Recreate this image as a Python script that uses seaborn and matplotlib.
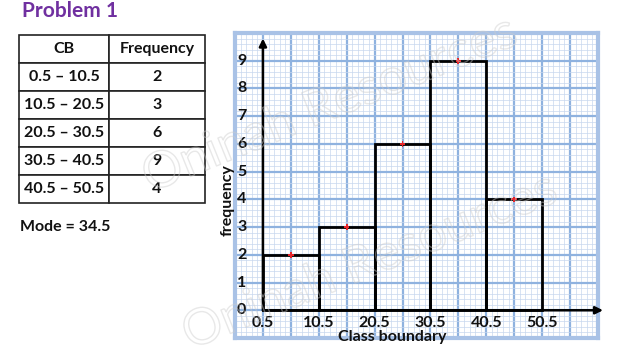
import matplotlib
matplotlib.use('Agg')
import matplotlib.pyplot as plt
import seaborn as sns
import numpy as np
import pandas as pd
from matplotlib import patheffects as pe

# ---- data ----
edges = [0.5, 10.5, 20.5, 30.5, 40.5, 50.5]
freq = [2, 3, 6, 9, 4]
cb_labels = ["0.5 – 10.5", "10.5 – 20.5", "20.5 – 30.5", "30.5 – 40.5", "40.5 – 50.5"]
table_header = ["CB", "Frequency"]
y_ticks = [0, 1, 2, 3, 4, 5, 6, 7, 8, 9]
x_tick_labels = ["0.5", "10.5", "20.5", "30.5", "40.5", "50.5"]
mode_text = "Mode = 34.5"
title = "Problem 1"
watermark = "Oninah Resources"

sns.set_theme(style='white')
plt.rcParams['font.family'] = ['Lato', 'DejaVu Sans']

W, H = 640, 360
fig = plt.figure(figsize=(6.4, 3.6), dpi=100)
fig.patch.set_facecolor('white')

FS = 11.5

# ---- graph paper axes ----
ax = fig.add_axes([235 / W, 1 - 338 / H, 363 / W, 305 / H])
xmin, xmax, ymin, ymax = -4.5, 60.5, -1, 10
ax.set_xlim(xmin, xmax)
ax.set_ylim(ymin, ymax)
ax.set_xticks(np.arange(xmin, xmax + 0.01, 5))
ax.set_xticks(np.arange(xmin, xmax + 0.01, 1), minor=True)
ax.set_yticks(np.arange(ymin, ymax + 0.01, 1))
ax.set_yticks(np.arange(ymin, ymax + 0.01, 0.2), minor=True)
ax.grid(which='major', color='#8fb2df', lw=1.6, zorder=0)
ax.grid(which='minor', color='#c8d7ee', lw=0.5, zorder=0)
ax.tick_params(which='both', length=0, labelbottom=False, labelleft=False)
ax.set_axisbelow(True)
for s in ax.spines.values():
    s.set_color('#a9c2e6')
    s.set_linewidth(3)

mid = [(a + b) / 2 for a, b in zip(edges[:-1], edges[1:])]
df = pd.DataFrame({'mid': mid, 'freq': freq})
sns.histplot(data=df, x='mid', weights='freq', bins=edges, fill=False,
             element='bars', color='black', linewidth=2, ax=ax, zorder=3)
sns.scatterplot(x=mid, y=freq, color='#e8262b', marker='P', s=16,
                edgecolor='none', ax=ax, zorder=5)
ax.set_xlabel('')
ax.set_ylabel('')

# axes arrows
arrow_kw = dict(arrowstyle='-|>', color='black', lw=1.8, mutation_scale=11,
                shrinkA=0, shrinkB=0)
ax.annotate('', xy=(edges[0], 9.8), xytext=(edges[0], 0), arrowprops=arrow_kw,
            annotation_clip=False, zorder=6)
ax.annotate('', xy=(61.4, 0), xytext=(edges[0], 0), arrowprops=arrow_kw,
            annotation_clip=False, zorder=6)

# tick labels
for yv in y_ticks:
    ax.text(-3.3, yv, str(yv), ha='center', va='center', fontsize=FS,
            fontweight='bold', color='#111111', zorder=6)
for xv, lab in zip(edges, x_tick_labels):
    ax.text(xv, -0.45, lab, ha='center', va='center', fontsize=FS,
            fontweight='bold', color='#111111', zorder=6)

fig.text(392 / W, 1 - 337 / H, "Class boundary", ha='center', va='center',
         fontsize=FS, fontweight='bold', color='#111111')
fig.text(228 / W, 1 - 200 / H, "frequency", ha='center', va='center',
         rotation=90, fontsize=FS, fontweight='bold', color='#111111')

# ---- table ----
tax = fig.add_axes([19 / W, 1 - 203 / H, 186 / W, 168 / H])
tax.set_axis_off()
cells = [[c, str(f)] for c, f in zip(cb_labels, freq)]
tbl = tax.table(cellText=cells, colLabels=table_header, cellLoc='center',
                bbox=[0, 0, 1, 1], colWidths=[90 / 186, 96 / 186])
tbl.auto_set_font_size(False)
for (r, c), cell in tbl.get_celld().items():
    cell.set_edgecolor('#222222')
    cell.set_linewidth(1.2)
    cell.set_facecolor('white')
    cell.get_text().set_fontsize(FS)
    cell.get_text().set_fontweight('bold')
    cell.get_text().set_color('#111111')

# ---- texts ----
fig.text(22 / W, 1 - 17 / H, title, ha='left', va='baseline', fontsize=15,
         fontweight='bold', color='#7030a0')
fig.text(20 / W, 1 - 227 / H, mode_text, ha='left', va='center',
         fontsize=FS, fontweight='bold', color='#111111')

# ---- watermarks (faint outlined text) ----
wm_kw = dict(fontsize=36, color=(1, 1, 1, 0.0), rotation=22,
             ha='center', va='center', zorder=20,
             path_effects=[pe.Stroke(linewidth=1.0, foreground=(0.8, 0.8, 0.8, 0.45))])
fig.text(330 / W, 1 - 105 / H, watermark, **wm_kw)
fig.text(370 / W, 1 - 262 / H, watermark, **wm_kw)

fig.savefig('out.png', dpi=100)
